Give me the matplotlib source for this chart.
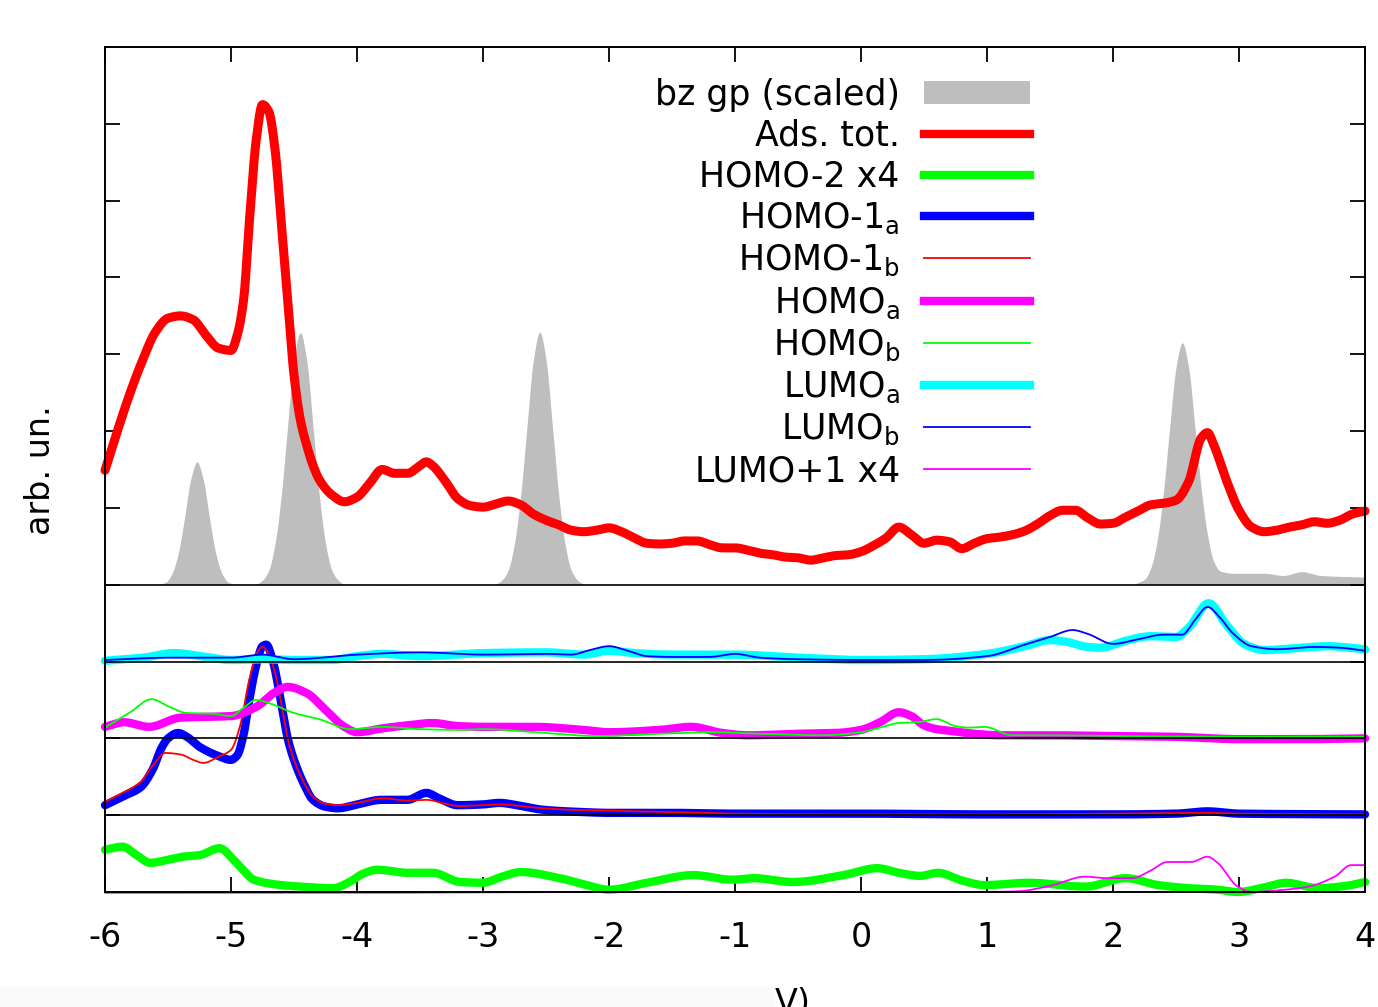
import matplotlib
matplotlib.use("Agg")
import matplotlib.pyplot as plt
import numpy as np
from matplotlib.lines import Line2D
from matplotlib.patches import Patch, Rectangle

plt.rcParams["font.family"] = "DejaVu Sans"
plt.rcParams["mathtext.default"] = "regular"

# (energy, value) pairs, each series in its own panel units (panel baseline = 0)
BZ_GP = [(-6.0, 0), (-5.60, 0), (-5.57, 0.01), (-5.52, 0.03), (-5.47, 0.14), (-5.42, 0.40),
         (-5.37, 0.86), (-5.32, 1.37), (-5.27, 1.60), (-5.22, 1.37), (-5.17, 0.86), (-5.12, 0.40),
         (-5.07, 0.14), (-5.02, 0.03), (-4.97, 0.01), (-4.85, 0), (-4.80, 0.01), (-4.75, 0.06),
         (-4.70, 0.19), (-4.65, 0.54), (-4.60, 1.18), (-4.55, 2.08), (-4.50, 2.93), (-4.45, 3.28),
         (-4.40, 2.93), (-4.35, 2.08), (-4.30, 1.18), (-4.25, 0.54), (-4.20, 0.19), (-4.15, 0.06),
         (-4.10, 0.01), (-2.95, 0), (-2.90, 0.01), (-2.85, 0.06), (-2.80, 0.19), (-2.75, 0.54),
         (-2.70, 1.18), (-2.65, 2.08), (-2.60, 2.93), (-2.55, 3.29), (-2.50, 2.93), (-2.45, 2.08),
         (-2.40, 1.18), (-2.35, 0.54), (-2.30, 0.19), (-2.25, 0.06), (-2.20, 0.01), (-2.15, 0),
         (2.15, 0), (2.20, 0.03), (2.25, 0.07), (2.30, 0.22), (2.35, 0.57), (2.40, 1.20),
         (2.45, 2.05), (2.50, 2.83), (2.55, 3.15), (2.60, 2.83), (2.65, 2.05), (2.70, 1.25),
         (2.75, 0.65), (2.80, 0.30), (2.85, 0.18), (2.95, 0.15), (3.2, 0.15), (3.35, 0.12),
         (3.5, 0.17), (3.65, 0.12), (4.0, 0.10)]

ADS_TOT = [(-6.0, 1.49), (-5.9, 2.01), (-5.8, 2.50), (-5.7, 2.93), (-5.6, 3.29), (-5.5, 3.47),
           (-5.4, 3.50), (-5.3, 3.45), (-5.2, 3.25), (-5.1, 3.08), (-5.0, 3.05), (-4.95, 3.25),
           (-4.9, 3.71), (-4.85, 4.82), (-4.8, 5.79), (-4.75, 6.25), (-4.7, 6.16), (-4.65, 5.66),
           (-4.6, 4.69), (-4.55, 3.71), (-4.5, 2.73), (-4.45, 2.15), (-4.4, 1.82), (-4.35, 1.56),
           (-4.3, 1.37), (-4.2, 1.17), (-4.1, 1.08), (-4.0, 1.14), (-3.9, 1.32), (-3.8, 1.50),
           (-3.7, 1.45), (-3.6, 1.45), (-3.5, 1.55), (-3.45, 1.60), (-3.4, 1.55), (-3.3, 1.35),
           (-3.2, 1.12), (-3.1, 1.03), (-3.0, 1.01), (-2.9, 1.05), (-2.8, 1.09), (-2.7, 1.04),
           (-2.6, 0.92), (-2.5, 0.84), (-2.4, 0.78), (-2.3, 0.71), (-2.2, 0.69), (-2.1, 0.71),
           (-2.0, 0.74), (-1.9, 0.69), (-1.8, 0.61), (-1.7, 0.54), (-1.6, 0.53), (-1.5, 0.54),
           (-1.4, 0.57), (-1.3, 0.57), (-1.2, 0.52), (-1.1, 0.48), (-1.0, 0.48), (-0.9, 0.45),
           (-0.8, 0.41), (-0.7, 0.39), (-0.6, 0.36), (-0.5, 0.35), (-0.4, 0.32), (-0.3, 0.35),
           (-0.2, 0.38), (-0.1, 0.39), (0.0, 0.43), (0.1, 0.51), (0.2, 0.61), (0.3, 0.75),
           (0.4, 0.65), (0.5, 0.54), (0.6, 0.58), (0.7, 0.56), (0.8, 0.47), (0.9, 0.54),
           (1.0, 0.60), (1.1, 0.62), (1.2, 0.65), (1.3, 0.70), (1.4, 0.79), (1.5, 0.90),
           (1.6, 0.97), (1.7, 0.97), (1.8, 0.87), (1.9, 0.79), (2.0, 0.80), (2.1, 0.88),
           (2.2, 0.96), (2.3, 1.04), (2.4, 1.06), (2.5, 1.10), (2.6, 1.34), (2.7, 1.91),
           (2.75, 1.98), (2.8, 1.82), (2.9, 1.36), (3.0, 0.97), (3.1, 0.75), (3.2, 0.69),
           (3.3, 0.71), (3.4, 0.75), (3.5, 0.78), (3.6, 0.82), (3.7, 0.80), (3.8, 0.84),
           (3.9, 0.92), (4.0, 0.96)]

LUMO_A = [(-6.0, 0.01), (-5.7, 0.05), (-5.45, 0.11), (-5.2, 0.06), (-5.0, 0.02), (-4.75, 0.03),
          (-4.5, 0.02), (-4.2, 0.02), (-4.0, 0.07), (-3.8, 0.10), (-3.5, 0.07), (-3.0, 0.11),
          (-2.5, 0.12), (-2.2, 0.09), (-2.0, 0.14), (-1.8, 0.11), (-1.5, 0.09), (-1.0, 0.09),
          (-0.5, 0.05), (0.0, 0.02), (0.5, 0.03), (1.0, 0.10), (1.3, 0.20), (1.5, 0.28),
          (1.62, 0.26), (1.8, 0.19), (1.9, 0.18), (2.1, 0.27), (2.3, 0.33), (2.5, 0.32),
          (2.6, 0.44), (2.76, 0.76), (2.9, 0.48), (3.05, 0.22), (3.2, 0.15), (3.5, 0.18),
          (3.7, 0.20), (4.0, 0.16)]

LUMO_B = [(-6.0, 0.02), (-5.5, 0.05), (-5.0, 0.05), (-4.75, 0.09), (-4.5, 0.03), (-4.0, 0.09),
          (-3.5, 0.12), (-3.0, 0.09), (-2.5, 0.10), (-2.3, 0.09), (-2.15, 0.15), (-2.0, 0.20),
          (-1.85, 0.14), (-1.7, 0.07), (-1.5, 0.06), (-1.2, 0.06), (-1.0, 0.10), (-0.8, 0.05),
          (-0.5, 0.03), (0.0, 0.02), (0.5, 0.02), (1.0, 0.07), (1.3, 0.22), (1.5, 0.32),
          (1.68, 0.41), (1.8, 0.36), (2.0, 0.23), (2.2, 0.29), (2.4, 0.35), (2.55, 0.35),
          (2.65, 0.54), (2.75, 0.71), (2.85, 0.57), (2.95, 0.37), (3.1, 0.20), (3.3, 0.16),
          (3.6, 0.19), (3.8, 0.18), (4.0, 0.14)]

HOMO_A = [(-6.0, 0.15), (-5.85, 0.21), (-5.65, 0.15), (-5.4, 0.27), (-5.2, 0.28), (-5.0, 0.29),
          (-4.8, 0.41), (-4.65, 0.60), (-4.55, 0.67), (-4.4, 0.59), (-4.25, 0.37), (-4.1, 0.15),
          (-4.0, 0.08), (-3.8, 0.13), (-3.6, 0.17), (-3.4, 0.20), (-3.2, 0.16), (-3.0, 0.15),
          (-2.6, 0.15), (-2.2, 0.11), (-2.0, 0.08), (-1.6, 0.11), (-1.35, 0.15), (-1.1, 0.07),
          (-0.9, 0.04), (-0.5, 0.06), (-0.2, 0.07), (0.0, 0.11), (0.15, 0.21), (0.3, 0.34),
          (0.4, 0.29), (0.5, 0.17), (0.6, 0.12), (0.7, 0.10), (0.9, 0.06), (1.1, 0.04),
          (1.5, 0.04), (2.0, 0.03), (2.5, 0.02), (3.0, -0.01), (3.5, -0.01), (4.0, 0.0)]

HOMO_B = [(-6.0, 0.14), (-5.8, 0.34), (-5.63, 0.51), (-5.5, 0.42), (-5.35, 0.33), (-5.15, 0.32),
          (-5.0, 0.29), (-4.9, 0.40), (-4.8, 0.50), (-4.7, 0.46), (-4.5, 0.33), (-4.3, 0.25),
          (-4.05, 0.12), (-3.8, 0.15), (-3.5, 0.12), (-3.2, 0.11), (-3.0, 0.12), (-2.5, 0.07),
          (-2.1, 0.03), (-1.6, 0.06), (-1.2, 0.08), (-0.8, 0.06), (-0.3, 0.04), (0.0, 0.08),
          (0.15, 0.14), (0.3, 0.20), (0.45, 0.21), (0.6, 0.25), (0.75, 0.16), (0.85, 0.14),
          (0.98, 0.15), (1.2, 0.04), (1.5, 0.04), (2.0, 0.03), (3.0, 0.02), (4.0, 0.02)]

HOMO_1A = [(-6.0, 0.13), (-5.85, 0.25), (-5.72, 0.36), (-5.62, 0.60), (-5.55, 0.88), (-5.5, 1.00),
           (-5.42, 1.07), (-5.35, 1.02), (-5.25, 0.89), (-5.1, 0.77), (-5.0, 0.72), (-4.95, 0.78),
           (-4.9, 1.05), (-4.86, 1.45), (-4.8, 1.95), (-4.75, 2.20), (-4.72, 2.22), (-4.67, 2.02),
           (-4.6, 1.45), (-4.55, 1.00), (-4.5, 0.72), (-4.42, 0.40), (-4.35, 0.20), (-4.25, 0.11),
           (-4.15, 0.09), (-4.0, 0.14), (-3.8, 0.20), (-3.6, 0.20), (-3.45, 0.29), (-3.35, 0.22),
           (-3.2, 0.13), (-3.0, 0.14), (-2.87, 0.16), (-2.7, 0.12), (-2.52, 0.07), (-2.2, 0.04),
           (-2.0, 0.03), (-1.5, 0.03), (-1.0, 0.02), (0.0, 0.02), (1.0, 0.01), (2.0, 0.01),
           (2.5, 0.02), (2.75, 0.05), (3.0, 0.02), (4.0, 0.01)]

HOMO_1B = [(-6.0, 0.17), (-5.85, 0.30), (-5.72, 0.43), (-5.62, 0.65), (-5.52, 0.81), (-5.4, 0.79),
           (-5.3, 0.72), (-5.22, 0.68), (-5.1, 0.76), (-5.0, 0.85), (-4.93, 1.15), (-4.85, 1.80),
           (-4.78, 2.15), (-4.75, 2.19), (-4.7, 2.10), (-4.65, 1.85), (-4.6, 1.45), (-4.55, 1.00),
           (-4.5, 0.72), (-4.42, 0.42), (-4.35, 0.24), (-4.25, 0.15), (-4.15, 0.13), (-4.0, 0.16),
           (-3.8, 0.22), (-3.6, 0.19), (-3.45, 0.20), (-3.3, 0.15), (-3.2, 0.12), (-3.0, 0.13),
           (-2.85, 0.14), (-2.6, 0.10), (-2.3, 0.07), (-2.0, 0.06), (-1.5, 0.04), (-1.0, 0.02),
           (0.0, 0.01), (1.0, 0.01), (2.0, 0.02), (2.75, 0.03), (3.0, 0.02), (4.0, 0.01)]

HOMO_2X4 = [(-6.0, 0.55), (-5.86, 0.59), (-5.75, 0.48), (-5.64, 0.38), (-5.5, 0.42), (-5.38, 0.46),
            (-5.25, 0.48), (-5.09, 0.57), (-4.98, 0.42), (-4.9, 0.28), (-4.82, 0.16), (-4.6, 0.09),
            (-4.45, 0.07), (-4.19, 0.05), (-4.06, 0.13), (-3.95, 0.24), (-3.84, 0.29), (-3.6, 0.25),
            (-3.4, 0.25), (-3.18, 0.13), (-3.0, 0.12), (-2.85, 0.20), (-2.7, 0.26), (-2.39, 0.18),
            (-2.2, 0.10), (-2.0, 0.03), (-1.7, 0.12), (-1.33, 0.22), (-1.02, 0.16), (-0.85, 0.18),
            (-0.54, 0.13), (-0.14, 0.22), (0.13, 0.31), (0.3, 0.25), (0.47, 0.21), (0.61, 0.25),
            (0.8, 0.15), (0.98, 0.09), (1.33, 0.12), (1.78, 0.07), (2.1, 0.18), (2.36, 0.09),
            (2.6, 0.05), (2.83, 0.03), (2.99, 0.0), (3.2, 0.06), (3.37, 0.12), (3.63, 0.05),
            (3.85, 0.08), (4.0, 0.13)]

LUMO_1X4 = [(-6.0, -0.01), (-4.0, -0.01), (-2.0, 0.0), (0.0, 0.0), (1.0, 0.0), (1.25, 0.01),
            (1.5, 0.08), (1.78, 0.20), (1.95, 0.18), (2.15, 0.18), (2.3, 0.28), (2.43, 0.39),
            (2.62, 0.39), (2.75, 0.46), (2.83, 0.38), (2.99, 0.07), (3.1, 0.0), (3.3, 0.02),
            (3.55, 0.07), (3.76, 0.20), (3.89, 0.35), (4.0, 0.35)]

X_TICKS = [-6, -5, -4, -3, -2, -1, 0, 1, 2, 3, 4]

# panel baselines (stacked offsets)
OFF_TOP, OFF_LUMO, OFF_HOMO, OFF_HOMO1, OFF_HOMO2 = 4, 3, 2, 1, 0

THICK = 6.0
THIN = 1.3


def smooth(pairs, offset, n=12):
    """Monotone cubic (Fritsch-Carlson) curve through the read points, for drawing."""
    x = np.array([p[0] for p in pairs], float)
    y = np.array([p[1] for p in pairs], float) + offset
    h = np.diff(x)
    d = np.diff(y) / h
    m = np.zeros_like(y)
    m[0], m[-1] = d[0], d[-1]
    for k in range(1, len(x) - 1):
        if d[k - 1] * d[k] > 0:
            w1 = 2 * h[k] + h[k - 1]
            w2 = h[k] + 2 * h[k - 1]
            m[k] = (w1 + w2) / (w1 / d[k - 1] + w2 / d[k])
    xs, ys = [], []
    for k in range(len(x) - 1):
        t = np.linspace(0, 1, n, endpoint=False)
        h00 = 2 * t**3 - 3 * t**2 + 1
        h10 = t**3 - 2 * t**2 + t
        h01 = -2 * t**3 + 3 * t**2
        h11 = t**3 - t**2
        xs.append(x[k] + t * h[k])
        ys.append(h00 * y[k] + h10 * h[k] * m[k] + h01 * y[k + 1] + h11 * h[k] * m[k + 1])
    xs.append([x[-1]])
    ys.append([y[-1]])
    return np.concatenate(xs), np.concatenate(ys)


fig = plt.figure(figsize=(13.78, 10.07), dpi=100)
ax = fig.add_axes([105 / 1378, 115 / 1007, 1260 / 1378, 845 / 1007])

gx, gy = smooth(BZ_GP, OFF_TOP)
ax.fill_between(gx, OFF_TOP, gy, color="#bebebe", lw=0, zorder=1)

curves = [
    (ADS_TOT, OFF_TOP, "#ff0000", THICK + 0.5),
    (HOMO_2X4, OFF_HOMO2, "#00ff00", THICK),
    (HOMO_1A, OFF_HOMO1, "#0000ff", THICK),
    (HOMO_1B, OFF_HOMO1, "#ff0000", THIN),
    (HOMO_A, OFF_HOMO, "#ff00ff", THICK),
    (HOMO_B, OFF_HOMO, "#00ff00", THIN),
    (LUMO_A, OFF_LUMO, "#00ffff", THICK),
    (LUMO_B, OFF_LUMO, "#0000ff", THIN),
    (LUMO_1X4, OFF_HOMO2, "#ff00ff", THIN),
]
for i, (pairs, off, col, lw) in enumerate(curves):
    x, y = smooth(pairs, off)
    ax.plot(x, y, color=col, lw=lw, solid_joinstyle="round",
            solid_capstyle="round", zorder=2 + i * 0.1, clip_on=False)

for yl in [1, 2, 3, 4]:
    ax.axhline(yl, color="black", lw=1.2, zorder=5)

ax.set_xlim(-6, 4)
ax.set_ylim(0, 11)
ax.set_xticks(X_TICKS)
ax.set_xticklabels([str(t) for t in X_TICKS])
ax.set_yticks(range(1, 11))
ax.set_yticklabels([])
ax.tick_params(axis="both", direction="in", length=11, width=1.3,
               top=True, right=True, labelsize=24, pad=21)
for s in ax.spines.values():
    s.set_linewidth(1.4)
    s.set_zorder(6)

fig.text(40 / 1378, 1 - 470 / 1007, "arb. un.", rotation=90,
         ha="center", va="center", fontsize=24)
fig.text(735 / 1378, 1 - 985 / 1007, "E-E$_F$ (eV)", ha="center", va="top",
         fontsize=24)
# faint band over the bottom strip, as in the source image
fig.patches.append(Rectangle((0, 0), 775 / 1378, 20 / 1007, transform=fig.transFigure,
                             facecolor="#fafafa", edgecolor="none", zorder=10))

handles = [
    Patch(facecolor="#bebebe", edgecolor="none"),
    Line2D([], [], color="#ff0000", lw=THICK),
    Line2D([], [], color="#00ff00", lw=THICK),
    Line2D([], [], color="#0000ff", lw=THICK),
    Line2D([], [], color="#ff0000", lw=THIN),
    Line2D([], [], color="#ff00ff", lw=THICK),
    Line2D([], [], color="#00ff00", lw=THIN),
    Line2D([], [], color="#00ffff", lw=THICK),
    Line2D([], [], color="#0000ff", lw=THIN),
    Line2D([], [], color="#ff00ff", lw=THIN),
]
labels = ["bz gp (scaled)", "Ads. tot.", "HOMO-2 x4", "HOMO-1$_a$", "HOMO-1$_b$",
          "HOMO$_a$", "HOMO$_b$", "LUMO$_a$", "LUMO$_b$", "LUMO+1 x4"]
ax.legend(handles, labels, loc="upper right",
          bbox_to_anchor=((1030 - 105) / 1260, (892 - 78) / 845),
          frameon=False, markerfirst=False, fontsize=25, borderpad=0,
          borderaxespad=0, labelspacing=0.2, handlelength=3.05,
          handletextpad=0.7, handleheight=0.65)

fig.savefig("out.png", dpi=100)
